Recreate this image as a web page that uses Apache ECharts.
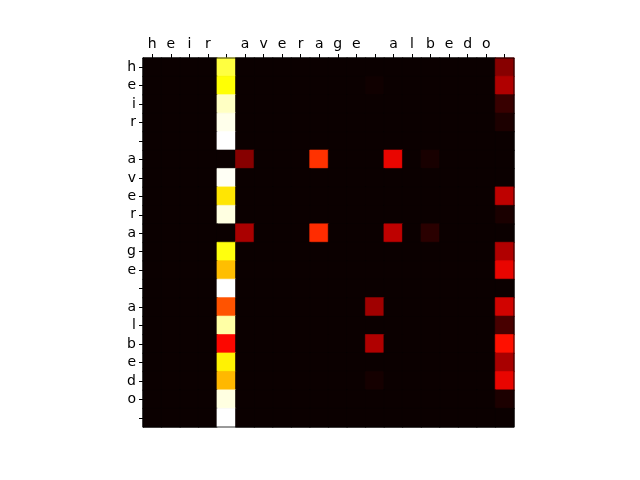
<!DOCTYPE html>
<html>
<head>
<meta charset="utf-8">
<script src="https://cdn.jsdelivr.net/npm/echarts@6/dist/echarts.min.js"></script>
<style>
  html, body { margin: 0; padding: 0; background: #fff; }
</style>
</head>
<body>
<div id="myChartAttn" style="width: 640px; height: 480px;"></div>
<script>
// input chars (columns) and output chars (rows)
var xLabels = ['h', 'e', 'i', 'r', ' ', 'a', 'v', 'e', 'r', 'a', 'g', 'e', ' ', 'a', 'l', 'b', 'e', 'd', 'o', ' ']
var yLabels = ['h', 'e', 'i', 'r', ' ', 'a', 'v', 'e', 'r', 'a', 'g', 'e', ' ', 'a', 'l', 'b', 'e', 'd', 'o', ' ']

// attention weights on the space column (col 4), per row
var colSpace = [0.81, 0.75, 0.94, 0.98, 1.0, 0, 0.99, 0.71, 0.97, 0, 0.76, 0.65, 1.0, 0.49, 0.91, 0.37, 0.73, 0.64, 0.97, 1.0]
// attention weights on the last column (col 19), per row
var colLast = [0.186, 0.247, 0.068, 0.026, 0, 0, 0, 0.27, 0.022, 0, 0.247, 0.34, 0, 0.30, 0.092, 0.389, 0.235, 0.34, 0.026, 0]
// the few remaining non-zero cells: [col, row, value]
var otherCells = [
  [5, 5, 0.186], [9, 5, 0.44], [13, 5, 0.34], [15, 5, 0.02],
  [5, 9, 0.238], [9, 9, 0.43], [13, 9, 0.27], [15, 9, 0.047],
  [12, 1, 0.008],
  [12, 13, 0.223], [12, 15, 0.247], [12, 17, 0.015]
]

var grid = []
for (var r = 0; r < yLabels.length; r++) {
  var row = []
  for (var c = 0; c < xLabels.length; c++) row.push(0)
  row[4] = colSpace[r]
  row[19] = colLast[r]
  grid.push(row)
}
otherCells.forEach(function (d) { grid[d[1]][d[0]] = d[2] })

// matplotlib 'hot' colormap sampled at equal steps
var hot = ['#0b0000', '#5e0000', '#b20000', '#ff0700', '#ff5a00', '#ffae00', '#ffff04', '#ffff82', '#ffffff']

var seriesData = []
for (var r2 = 0; r2 < yLabels.length; r2++) {
  for (var c2 = 0; c2 < xLabels.length; c2++) {
    var v = grid[r2][c2]
    var col = echarts.color.lerp(v, hot)
    // border in the cell colour hides the anti-aliasing seams between cells
    seriesData.push({
      value: [c2, r2, v],
      itemStyle: { color: col, borderColor: col, borderWidth: 0.6 }
    })
  }
}

var idx = xLabels.map(function (_, i) { return String(i) })

var myChart = echarts.init(document.getElementById('myChartAttn'))
var option = {
  backgroundColor: '#fff',
  animation: false,
  grid: { left: 143, right: 126, top: 58, bottom: 53, show: true, backgroundColor: '#0b0000', borderWidth: 0 },
  xAxis: {
    type: 'category',
    position: 'top',
    data: idx,
    axisLine: { show: true, lineStyle: { color: '#000', width: 1 } },
    axisTick: { show: true, alignWithLabel: true, length: 4, lineStyle: { color: '#000' } },
    axisLabel: {
      interval: 0,
      color: '#000',
      fontFamily: 'DejaVu Sans',
      fontSize: 14,
      margin: 7,
      formatter: function (v) { return xLabels[+v] }
    },
    splitLine: { show: false }
  },
  yAxis: {
    type: 'category',
    inverse: true,
    data: idx,
    axisLine: { show: true, lineStyle: { color: '#000', width: 1 } },
    axisTick: { show: true, alignWithLabel: true, length: 4, lineStyle: { color: '#000' } },
    axisLabel: {
      interval: 0,
      color: '#000',
      fontFamily: 'DejaVu Sans',
      fontSize: 14,
      margin: 7,
      formatter: function (v) { return yLabels[+v] }
    },
    splitLine: { show: false }
  },
  series: [{
    type: 'heatmap',
    data: seriesData,
    emphasis: { disabled: true }
  }]
}
myChart.setOption(option, true)

// thin frame on the right and bottom, like the matplotlib spines
myChart.setOption({
  graphic: [{
    type: 'rect',
    shape: { x: 143, y: 58, width: 371, height: 369 },
    style: { fill: 'none', stroke: '#000', lineWidth: 0.8 },
    z: 100
  }]
})
</script>
</body>
</html>
